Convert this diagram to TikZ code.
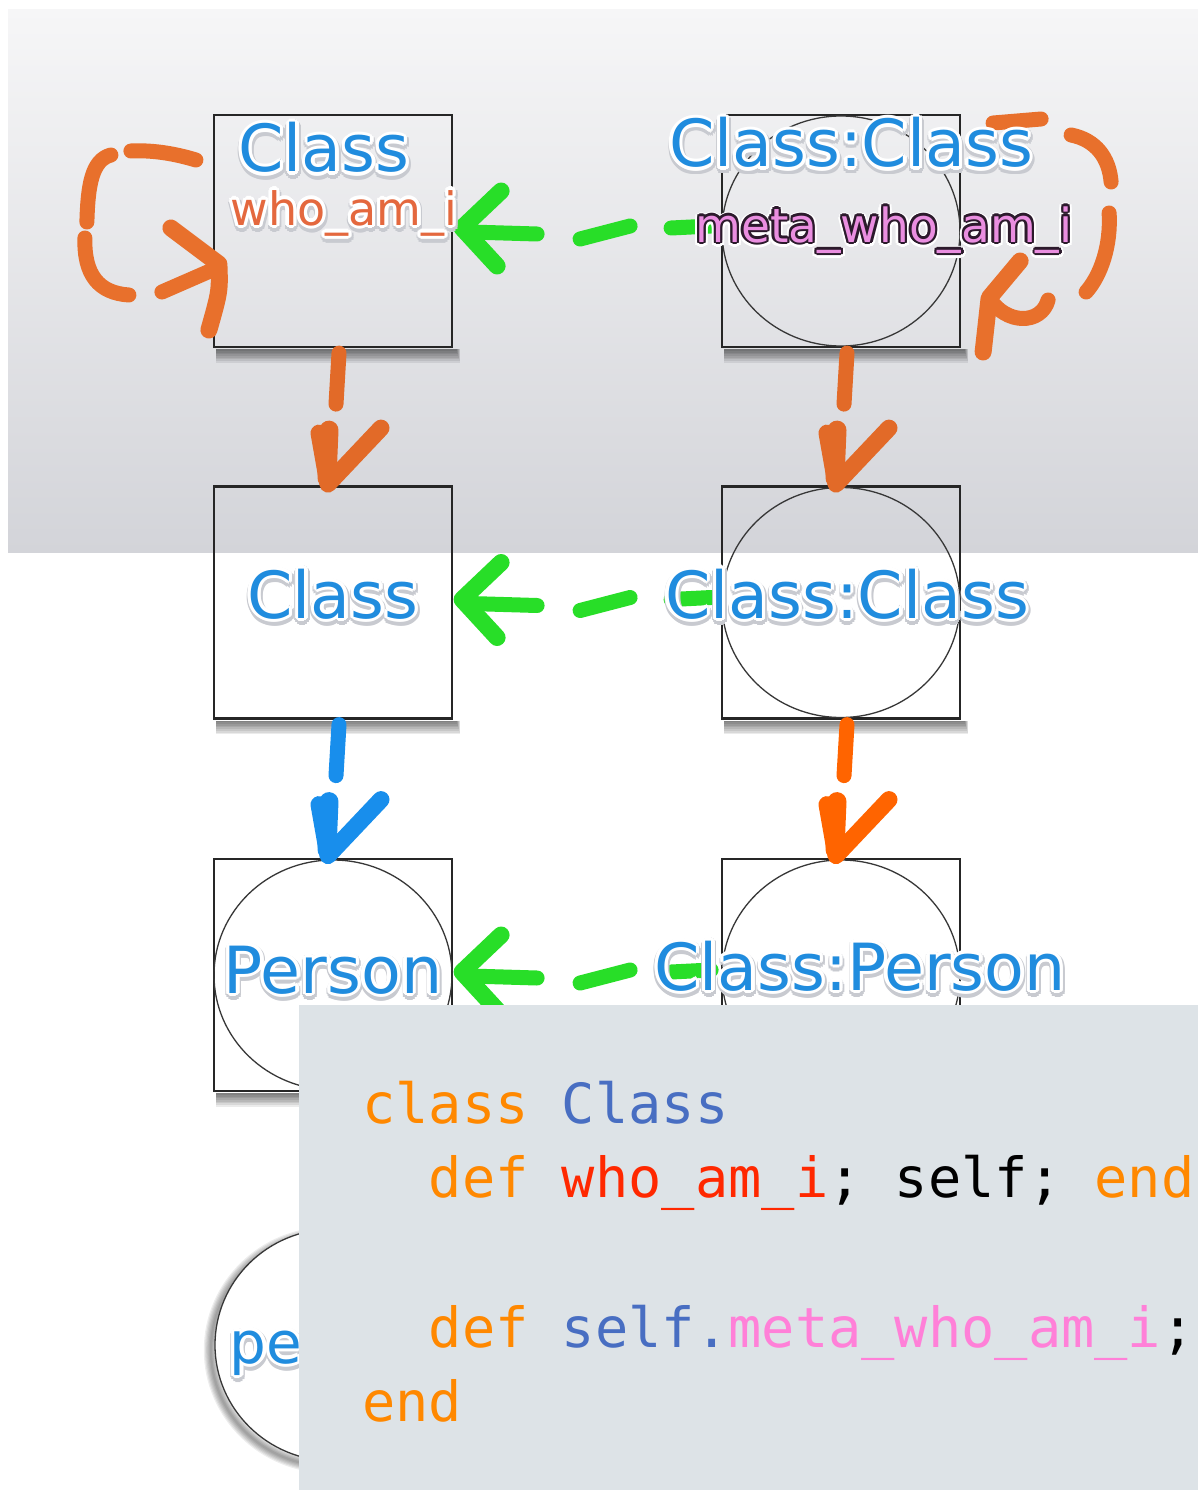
\documentclass[tikz,border=0pt]{standalone}
\usepackage{fontspec}
\usetikzlibrary{calc,shapes.geometric}
\newfontfamily\lblfont{DejaVu Sans}
\newfontfamily\codefont{DejaVu Sans Mono}

\definecolor{bandtop}{RGB}{246,246,247}
\definecolor{bandbot}{RGB}{211,212,217}
\definecolor{boxline}{RGB}{38,38,38}
\definecolor{ringline}{RGB}{55,55,55}
\definecolor{loopor}{RGB}{232,112,44}
\definecolor{downor}{RGB}{226,106,40}
\definecolor{brightor}{RGB}{255,100,0}
\definecolor{grn}{RGB}{40,222,40}
\definecolor{arrblue}{RGB}{24,142,236}
\definecolor{lblblue}{RGB}{32,140,222}
\definecolor{lblred}{RGB}{228,104,62}
\definecolor{lblpink}{RGB}{234,142,224}
\definecolor{lbldark}{RGB}{44,26,44}
\definecolor{halogrey}{RGB}{200,202,208}
\definecolor{panel}{RGB}{221,227,231}
\definecolor{kw}{RGB}{255,136,0}
\definecolor{cname}{RGB}{72,110,194}
\definecolor{fn}{RGB}{255,40,0}
\definecolor{metapink}{RGB}{255,128,216}

\newcommand\lblsize[1]{\lblfont\fontsize{#1}{#1}\selectfont}
% copies of a text set round a point, for outlines and halos
\newcommand\ringtext[6]{%
  \foreach \rotang in {0,30,...,330}{%
    \node[lbl, text=#1, font=\lblsize{#5}] at ({#3+#2*cos(\rotang)},{#4+#2*sin(\rotang)}) {#6};}}
% label with a white halo and a soft grey rim
\newcommand\glowlabel[6]{%
  \ringtext{halogrey}{4.6}{#2+0.6}{#3+2.4}{#4}{#6}%
  \ringtext{white}{3.3}{#2}{#3}{#4}{#6}%
  \node[lbl, text=#5, font=\lblsize{#4}] (#1) at (#2,#3) {#6};}
% soft shadow under the bottom edge of a box
\newcommand\dropshade[1]{%
  \foreach \k in {1,...,8}{%
    \fill[black, opacity=0.08] ($(#1.south west)+(3,1)$) rectangle ($(#1.south east)+(3+\k*0.5,1+\k*1.7)$);}}

\tikzset{
  objbox/.style={draw=boxline, line width=2.2, inner sep=0, minimum width=238, minimum height=232},
  objring/.style={draw=ringline, line width=1.3, ellipse, inner sep=0, minimum width=238, minimum height=230},
  hand/.style={line width=15, line cap=round, line join=round},
  lbl/.style={anchor=base, inner sep=0},
  codeline/.style={anchor=base west, inner sep=0, font=\codefont\fontsize{55.3}{60}\selectfont},
  downhook/.pic={
    \draw[hand] (6,5) -- (3,56);
    \draw[hand, line width=17] (-14,85) -- (-5,136) -- (48,80);
    \draw[hand, line width=19] (-4,82) -- (-6,130);
  },
  greenhook/.pic={
    \draw[hand, line width=17] (48,-40) -- (9,-3) -- (44,35);
    \draw[hand] (17,1) -- (84,3);
    \draw[hand] (127,8) -- (177,-5);
    \draw[hand] (218,-3) -- (258,-5);
  },
}

\begin{document}
\begin{tikzpicture}[x=1pt,y=-1pt]
\useasboundingbox (0,0) rectangle (1198,1490);
\clip (0,0) rectangle (1198,1490);
\fill[white] (0,0) rectangle (1198,1490);
\shade[top color=bandtop, bottom color=bandbot] (8,10) rectangle (1198,552);

% objects
\node[objbox] (A1) at (333,231) {};
\node[objbox] (B1) at (841,231) {};
\node[objbox] (A2) at (333,602.5) {};
\node[objbox] (B2) at (841,602.5) {};
\node[objbox] (A3) at (333,975) {};
\node[objbox] (B3) at (841,975) {};
\dropshade{A1}\dropshade{B1}\dropshade{A2}\dropshade{B2}\dropshade{A3}
\node[objring] (B1c) at (B1.center) {};
\node[objring] (B2c) at (B2.center) {};
\node[objring] (B3c) at (B3.center) {};
\node[objring] (A3c) at (A3.center) {};

% superclass links
\pic[color=downor] at (A1.south) {downhook};
\pic[color=downor] at (B1.south) {downhook};
\pic[color=arrblue] at (A2.south) {downhook};
\pic[color=brightor] at (B2.south) {downhook};

% class links
\pic[color=grn] at (A1.east) {greenhook};
\pic[color=grn] at (A2.east) {greenhook};
\pic[color=grn] at (A3.east) {greenhook};

% self loop of Class
\begin{scope}[shift={(A1.west)}, color=loopor]
  \draw[hand] (-17,-71) .. controls (-40,-78) and (-62,-81) .. (-82,-80);
  \draw[hand] (-102,-76) .. controls (-121,-71) and (-125,-46) .. (-126,-9);
  \draw[hand] (-128,7) .. controls (-129,44) and (-114,62) .. (-84,64);
  \draw[hand] (-51,61) -- (4,37);
  \draw[hand, line width=17] (-42,-3) -- (6,33) .. controls (7,60) .. (-4,99);
\end{scope}

% self loop of Class:Class
\begin{scope}[shift={(B1.east)}, color=loopor]
  \draw[hand] (32,-108) -- (80,-112);
  \draw[hand] (110,-96) .. controls (135,-91) and (148,-73) .. (150,-49);
  \draw[hand] (148,-18) .. controls (150,14) and (140,44) .. (125,61);
  \draw[hand] (87,69) .. controls (80,94) and (45,94) .. (28,67);
  \draw[hand, line width=17] (59,30) -- (28,67) -- (22,121);
\end{scope}

% labels
\glowlabel{lA1}{324}{172}{65}{lblblue}{Class}
\glowlabel{lA1m}{344}{225}{46}{lblred}{who\_am\_i}
\glowlabel{lB1}{851}{167}{65}{lblblue}{Class:Class}
\ringtext{white}{4.4}{884}{243}{47}{meta\_who\_am\_i}
\ringtext{lbldark}{2.3}{884}{242}{47}{meta\_who\_am\_i}
\node[lbl, text=lblpink, font=\lblsize{47}] (lB1m) at (884,242) {meta\_who\_am\_i};
\glowlabel{lA2}{333}{618}{65}{lblblue}{Class}
\glowlabel{lB2}{847}{618}{65}{lblblue}{Class:Class}
\glowlabel{lA3}{333}{993}{65}{lblblue}{Person}
\glowlabel{lB3}{860}{990}{65}{lblblue}{Class:Person}

% instance
\begin{scope}[even odd rule]
  \clip (0,0) rectangle (1198,1490) (333,1345) ellipse [x radius=118, y radius=116];
  \foreach \k in {1,...,6}{\draw[black, opacity=0.07, line width=\k*2.4] (329,1350) ellipse [x radius=118, y radius=116];}
\end{scope}
\node[objring, fill=white, minimum width=236, minimum height=232] (P) at (333,1345) {};
\glowlabel{lP}{266}{1363}{58}{lblblue}{pe}

% source code
\fill[panel] (299,1005) rectangle (1198,1490);
\node[codeline] (code1) at (362,1123) {\textcolor{kw}{class} \textcolor{cname}{Class}};
\node[codeline] (code2) at (428.6,1197) {\textcolor{kw}{def} \textcolor{fn}{who\_am\_i}; self; \textcolor{kw}{end}};
\node[codeline] (code3) at (428.6,1347) {\textcolor{kw}{def} \textcolor{cname}{self.}\textcolor{metapink}{meta\_who\_am\_i};};
\node[codeline] (code4) at (362,1421) {\textcolor{kw}{end}};
\end{tikzpicture}
\end{document}
